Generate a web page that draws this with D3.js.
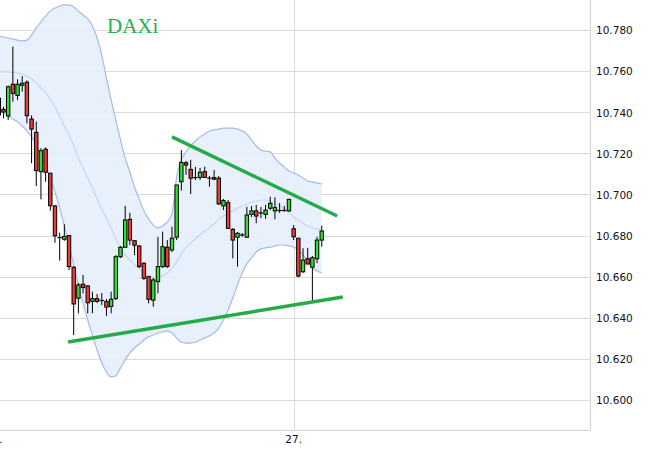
<!DOCTYPE html>
<html><head><meta charset="utf-8">
<script src="https://cdn.jsdelivr.net/npm/d3@7"></script>
<style>body{margin:0;background:#fff}svg{display:block}</style>
</head><body><svg id="c" width="651" height="452"></svg>
<script>
// ---- data (index = candle number) ----
const opens  = [10746.8,10741.4,10738.2,10753.6,10748.2,10753.1,10754.6,10736.7,10730.2,10711.1,
                10722.0,10710.3,10694.4,10679.0,10678.2,10680.0,10664.6,10649.5,10656.3,10655.5,
                10648.0,10649.3,10648.4,10648.0,10645.5,10649.4,10669.7,10674.3,10687.9,10677.5,
                10674.9,10666.5,10660.0,10648.6,10657.6,10664.9,10674.3,10673.0,10679.2,10706.2,
                10715.4,10712.2,10708.2,10708.3,10711.1,10707.9,10708.2,10707.9,10694.4,10696.0,
                10683.0,10679.2,10680.3,10679.2,10690.3,10692.0,10691.0,10690.3,10693.3,10692.0,
                10692.2,10692.2,10692.0,10683.3,10678.7,10662.4,10668.7,10664.6,10668.7,10677.8];
const highs  = [10747.9,10742.7,10753.0,10771.9,10756.0,10757.6,10755.5,10738.5,10735.4,10722.5,
                10722.9,10710.6,10694.9,10681.4,10685.5,10680.3,10665.0,10656.9,10660.8,10655.7,
                10652.7,10651.6,10652.1,10649.1,10652.7,10670.5,10674.9,10694.4,10691.1,10677.8,
                10675.4,10667.1,10660.3,10659.4,10679.4,10681.9,10677.8,10684.3,10698.1,10721.6,
                10716.3,10716.8,10713.4,10712.9,10713.5,10709.0,10711.9,10709.0,10697.8,10697.3,
                10683.7,10681.7,10681.2,10694.0,10694.4,10694.9,10693.9,10694.9,10698.9,10698.6,
                10695.8,10694.4,10697.8,10685.1,10678.8,10673.8,10674.0,10670.1,10679.4,10684.8];
const lows   = [10737.2,10737.1,10736.2,10745.1,10746.0,10750.0,10734.6,10715.2,10704.1,10697.6,
                10706.2,10692.1,10676.5,10667.8,10677.4,10663.2,10631.6,10642.2,10651.9,10642.2,
                10642.2,10647.2,10646.2,10640.9,10642.2,10648.6,10669.1,10674.0,10675.4,10670.5,
                10664.2,10658.4,10647.0,10645.4,10651.9,10664.2,10664.2,10672.0,10677.8,10701.9,
                10709.5,10700.2,10707.0,10707.0,10708.0,10703.8,10707.0,10694.9,10692.4,10683.2,
                10668.9,10664.9,10679.3,10678.8,10689.0,10686.0,10688.5,10688.1,10692.4,10687.9,
                10691.0,10691.5,10691.5,10677.8,10659.7,10661.8,10665.9,10648.3,10666.6,10674.6];
const closes = [10738.7,10740.1,10752.4,10749.2,10753.6,10754.1,10738.3,10731.8,10711.6,10721.3,
                10710.8,10694.5,10679.9,10679.0,10679.6,10664.9,10646.7,10656.0,10654.7,10647.3,
                10649.3,10648.0,10648.4,10645.2,10649.0,10669.7,10674.3,10687.6,10677.8,10675.3,
                10664.9,10659.2,10649.0,10658.4,10664.9,10674.6,10664.9,10678.7,10704.6,10715.6,
                10714.3,10707.9,10708.2,10710.8,10708.3,10707.9,10707.4,10695.4,10697.0,10683.5,
                10677.8,10681.1,10680.3,10690.0,10692.0,10689.5,10691.0,10692.4,10695.7,10693.6,
                10692.2,10692.2,10697.6,10679.4,10660.3,10668.1,10666.2,10669.2,10677.8,10682.2];

const bandUpper = [10777.1,10776.6,10776.1,10775.6,10775.1,10774.7,10775.1,10777.6,10781.0,10783.9,
                   10786.8,10789.2,10790.7,10791.7,10792.2,10792.2,10791.2,10789.2,10787.3,10785.4,
                   10782.0,10776.1,10767.8,10756.7,10746.0,10736.2,10726.5,10717.7,10710.9,10703.6,
                   10697.8,10692.0,10688.1,10685.1,10683.7,10684.7,10686.6,10690.5,10708.5,10716.8,
                   10720.7,10723.6,10726.0,10728.0,10729.4,10730.9,10731.4,10731.8,10732.3,10732.3,
                   10732.3,10731.8,10730.9,10729.4,10726.5,10723.6,10721.6,10721.1,10720.7,10717.7,
                   10715.3,10713.4,10711.4,10710.4,10709.5,10708.0,10706.5,10706.1,10705.6,10705.1];
const bandMiddle = [10759.6,10759.6,10759.6,10759.3,10759.1,10758.6,10757.6,10756.2,10754.2,10751.8,
                    10749.4,10746.4,10742.5,10738.2,10733.3,10728.9,10723.6,10717.7,10712.9,10708.0,
                    10703.1,10697.8,10692.9,10688.5,10683.7,10678.3,10674.0,10670.5,10668.1,10665.7,
                    10663.7,10662.3,10660.8,10659.8,10659.8,10660.3,10661.8,10664.2,10667.1,10671.0,
                    10674.0,10676.4,10678.3,10680.3,10682.2,10683.7,10685.6,10688.1,10689.5,10691.0,
                    10692.0,10693.4,10694.4,10695.3,10696.3,10696.8,10697.3,10697.3,10696.8,10695.8,
                    10694.4,10692.9,10691.0,10689.0,10687.6,10686.1,10684.7,10683.7,10683.2,10682.7];
const bandLower = [10741.1,10739.6,10738.2,10736.7,10735.3,10733.3,10730.9,10728.0,10724.1,10719.2,
                   10713.8,10708.0,10701.2,10693.4,10684.7,10675.4,10665.7,10656.0,10647.2,10638.9,
                   10631.6,10624.3,10618.0,10613.6,10611.2,10611.7,10615.6,10619.5,10622.9,10625.3,
                   10627.2,10629.2,10630.7,10631.6,10632.6,10633.1,10633.6,10632.6,10630.2,10628.2,
                   10627.7,10627.7,10628.2,10629.2,10630.2,10631.1,10632.6,10635.0,10638.9,10643.8,
                   10649.6,10656.0,10661.8,10666.2,10669.1,10672.0,10673.5,10674.0,10674.4,10674.9,
                   10675.4,10675.4,10674.9,10674.4,10673.0,10670.5,10667.1,10664.2,10662.8,10661.8];

const yTickValues = [10600,10620,10640,10660,10680,10700,10720,10740,10760,10780];
const yTickLabels = ["10.600","10.620","10.640","10.660","10.680","10.700","10.720","10.740","10.760","10.780"];
const dayStarts = [-1, 63];
const dayLabels = ["26.", "27."];
const resistanceLine = [[37.0,10728.0],[72.3,10689.5]];
const supportLine    = [[14.8,10628.2],[73.5,10650.1]];
const title = "DAXi";

// ---- drawing ----
const svg = d3.select("#c");
const plotRight = 590, plotBottom = 430;
const x = d3.scaleLinear().domain([0, 69]).range([-1.18, 321.74]);
const y = d3.scaleLinear().domain([10585.4, 10794.6]).range([plotBottom, 0]);

// grid
const yAxis = d3.axisRight(y).tickValues(yTickValues).tickSize(0).tickPadding(0)
  .tickFormat((d,i)=>yTickLabels[i]);
svg.append("g").selectAll("line").data(yTickValues).join("line")
  .attr("x1",0).attr("x2",plotRight)
  .attr("y1",d=>Math.round(y(d))+0.5).attr("y2",d=>Math.round(y(d))+0.5)
  .attr("stroke","#d9d9d9").attr("stroke-width",1);
svg.append("g").selectAll("line").data(dayStarts).join("line")
  .attr("x1",d=>Math.round(x(d))+0.5).attr("x2",d=>Math.round(x(d))+0.5)
  .attr("y1",0).attr("y2",plotBottom)
  .attr("stroke","#d9d9d9").attr("stroke-width",1);
// border
svg.append("line").attr("x1",plotRight+0.5).attr("x2",plotRight+0.5).attr("y1",0).attr("y2",plotBottom+0.5)
  .attr("stroke","#d2d2d2");
svg.append("line").attr("x1",0).attr("x2",plotRight+0.5).attr("y1",plotBottom+0.5).attr("y2",plotBottom+0.5)
  .attr("stroke","#d2d2d2");

// bollinger band
const idx = d3.range(bandUpper.length);
const area = d3.area().x(i=>x(i)).y0(i=>y(bandLower[i])).y1(i=>y(bandUpper[i])).curve(d3.curveMonotoneX);
svg.append("path").datum(idx).attr("d",area).attr("fill","#e6eefb").attr("fill-opacity",0.9);
const lineOf = arr => d3.line().x(i=>x(i)).y(i=>y(arr[i])).curve(d3.curveMonotoneX);
svg.append("path").datum(idx).attr("d",lineOf(bandMiddle)).attr("fill","none").attr("stroke","#c4d6f3").attr("stroke-width",1.2);
svg.append("path").datum(idx).attr("d",lineOf(bandUpper)).attr("fill","none").attr("stroke","#a3bbe7").attr("stroke-width",1.2);
svg.append("path").datum(idx).attr("d",lineOf(bandLower)).attr("fill","none").attr("stroke","#a3bbe7").attr("stroke-width",1.2);

// y axis labels
const ax = svg.append("g").attr("transform",`translate(${plotRight+6},0)`).call(yAxis);
ax.select(".domain").remove();
ax.selectAll("text").attr("font-family","DejaVu Sans").attr("font-size","10.5px").attr("fill","#111").attr("dy","0.36em");

// x labels
svg.append("g").selectAll("text").data(dayStarts).join("text")
  .attr("x",d=>x(d)).attr("y",plotBottom+13).attr("text-anchor","middle")
  .attr("font-family","DejaVu Sans").attr("font-size","10.5px").attr("fill","#111")
  .text((d,i)=>dayLabels[i]);

// candles
const cw = 3.4;
const g = svg.append("g");
idx.forEach(i=>{
  const o=opens[i], h=highs[i], l=lows[i], c=closes[i];
  const cx = x(i);
  g.append("line").attr("x1",cx).attr("x2",cx).attr("y1",y(h)).attr("y2",y(l)).attr("stroke","#000").attr("stroke-width",1);
  const top = y(Math.max(o,c)), bot = y(Math.min(o,c));
  if (Math.abs(o-c) < 0.05) {
    g.append("line").attr("x1",cx-cw/2-0.5).attr("x2",cx+cw/2+0.5).attr("y1",top).attr("y2",top).attr("stroke","#000").attr("stroke-width",1.2);
  } else {
    g.append("rect").attr("x",cx-cw/2).attr("y",top).attr("width",cw).attr("height",Math.max(bot-top,1))
      .attr("fill", c>o ? "#33dd33" : "#ec3d36").attr("stroke","#000").attr("stroke-width",1);
  }
});

// trend lines
[resistanceLine, supportLine].forEach(seg=>{
  svg.append("line").attr("x1",x(seg[0][0])).attr("y1",y(seg[0][1]))
    .attr("x2",x(seg[1][0])).attr("y2",y(seg[1][1]))
    .attr("stroke","#25aa48").attr("stroke-width",3.4);
});

// title
svg.append("text").attr("x",107).attr("y",33).attr("font-family","Liberation Serif")
  .attr("font-size","21px").attr("fill","#1fb14e").text(title);
</script></body></html>
